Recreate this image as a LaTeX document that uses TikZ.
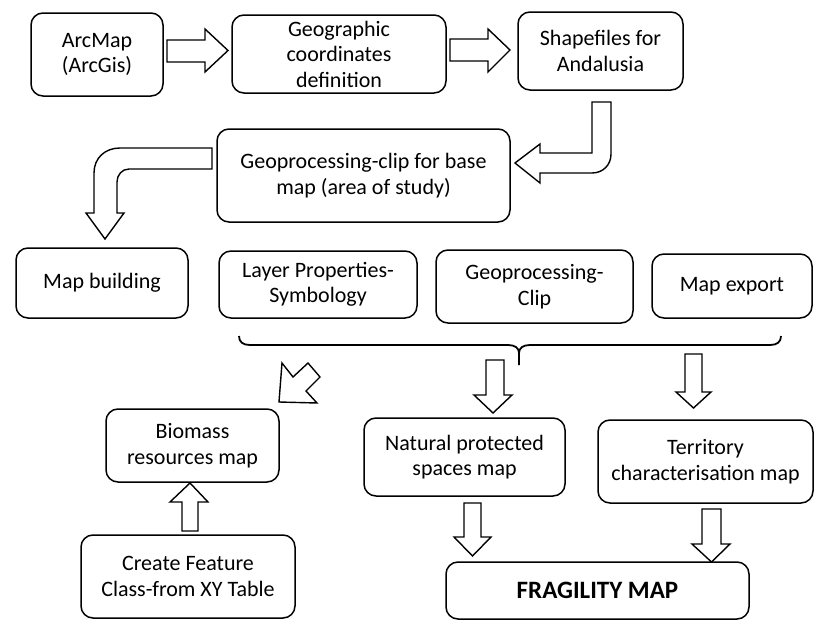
\documentclass[tikz,border=0pt]{standalone}
\usepackage{fontspec}
\setmainfont{Carlito}
\begin{document}
\begin{tikzpicture}[x=1pt,y=-1pt,
  box/.style={draw, rounded corners=12pt, line width=1.5pt, align=center, inner sep=0pt,
    font=\fontsize{22}{25.5}\selectfont},
  blk/.style={draw, line width=1.4pt, line join=miter, fill=white},
  brc/.style={draw, line width=1.8pt}]
\useasboundingbox (0,0) rectangle (819,621);
% boxes
\node[box, minimum width=132pt, minimum height=83pt] (arcmap) at (97,54.5) {ArcMap\\(ArcGis)};
\node[box, minimum width=214pt, minimum height=78pt] (geo) at (339,54) {Geographic\\coordinates\\definition};
\node[box, minimum width=165pt, minimum height=78pt] (shape) at (600.5,51) {Shapefiles for\\Andalusia};
\node[box, minimum width=293pt, minimum height=93pt] (clip) at (363.5,175.5) {Geoprocessing-clip for base\\map (area of study)};
\node[box, minimum width=172pt, minimum height=70pt] (build) at (102,283) {Map building};
\node[box, minimum width=198pt, minimum height=67pt] (layer) at (318,284.5) {Layer Properties-\\Symbology};
\node[box, minimum width=197pt, minimum height=73pt] (gclip) at (534.5,286.5) {Geoprocessing-\\Clip};
\node[box, minimum width=160pt, minimum height=64pt] (export) at (732,286) {Map export};
\node[box, minimum width=173pt, minimum height=73pt] (biomass) at (192.5,445.5) {Biomass\\resources map};
\node[box, minimum width=201pt, minimum height=78pt] (natural) at (464.5,457) {Natural protected\\spaces map};
\node[box, minimum width=215pt, minimum height=83pt] (territory) at (705.5,461.5) {Territory\\characterisation map};
\node[box, minimum width=214pt, minimum height=83pt] (create) at (188,576.5) {Create Feature\\Class-from XY Table};
\node[box, minimum width=303pt, minimum height=57pt, font=\fontsize{25}{28}\selectfont\bfseries] (fragility) at (597.5,590.5) {FRAGILITY MAP};
% straight block arrows, top row
\path[blk] (167,40)--(205,40)--(205,29)--(228,50.5)--(205,72)--(205,62)--(167,62)--cycle;
\path[blk] (450,39)--(488,39)--(488,29)--(510,50)--(488,72)--(488,61)--(450,61)--cycle;
% bent arrow Shapefiles -> clip
\path[blk] (592,102)--(611,102)--(611,154) .. controls (611,165) and (603,173) .. (592,173)
  --(540,173)--(540,183)--(515,163)--(540,144)--(540,153)--(592,153)--cycle;
% bent arrow clip -> map building
\path[blk] (212,148)--(120,148) .. controls (105,148) and (94,158) .. (94,173)
  --(94,213)--(86,213)--(105,239)--(124,213)--(117,213)--(117,182)
  .. controls (117,175) and (122,169) .. (129,169)--(212,169)--cycle;
% brace
\path[brc] (239,336) .. controls (239,342) and (243,345) .. (250,345) -- (508,345)
  .. controls (515,345) and (519,348) .. (519,353) -- (519,365);
\path[brc] (519,353) .. controls (519,348) and (523,345) .. (530,345) -- (770,345)
  .. controls (777,345) and (781,342) .. (781,336);
% diagonal arrow
\path[blk] (279,402)--(282,363)--(293,377)--(308,363)--(320,377)--(306,391)--(317,403)--cycle;
% down arrows from brace row
\path[blk] (486,360)--(504,360)--(504,395)--(512,395)--(493,413)--(474,395)--(486,395)--cycle;
\path[blk] (685,354)--(702,354)--(702,392)--(711,392)--(693.5,408)--(676,392)--(685,392)--cycle;
% up arrow create -> biomass
\path[blk] (182,531)--(198,531)--(198,502)--(208,502)--(190,483)--(170,502)--(182,502)--cycle;
% down arrows to fragility
\path[blk] (464,503)--(481,503)--(481,537)--(491,537)--(472.5,556)--(454,537)--(464,537)--cycle;
\path[blk] (702,509)--(721,509)--(721,544)--(730,544)--(711.5,562)--(692,544)--(702,544)--cycle;
\end{tikzpicture}
\end{document}
